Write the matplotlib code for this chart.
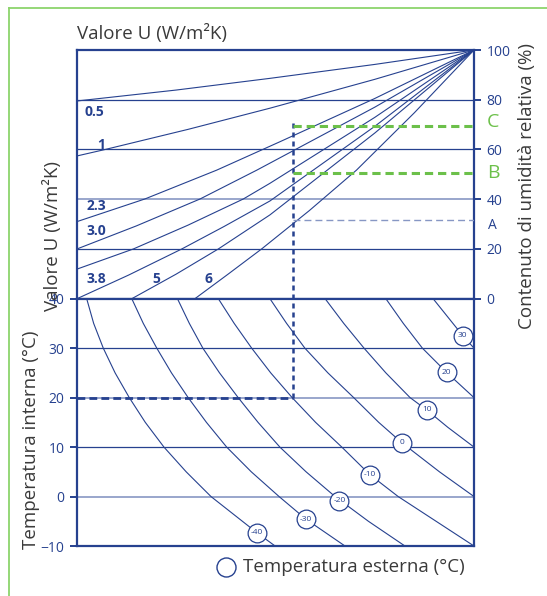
import matplotlib.pyplot as plt
from matplotlib.lines import Line2D

plt.rcParams['font.family'] = ['Open Sans', 'DejaVu Sans']

NAVY = '#26418f'
LIGHT = '#8797c4'
GREEN = '#6cc04a'
GREY = '#3a3a3a'

# upper panel: U-value curves (x position 0-100 vs relative humidity %)
u_labels = ['0.5', '1', '2.3', '3.0', '3.8', '5', '6']
u_x = [
    [0, 25, 48.6, 75, 100],
    [0, 7.1, 28, 48.6, 75, 100],
    [0, 17.1, 35.2, 51.1, 75, 100],
    [0, 15, 31.0, 45.3, 75, 100],
    [0, 14.2, 28, 41.9, 48.6, 75, 100],
    [0, 13, 26.4, 37, 48.6, 75, 100],
    [13.8, 25, 35.6, 48.6, 75, 100],
    [29.7, 38, 46.5, 58.5, 70.4, 85, 100],
]
u_rh = [
    [79.5, 83.9, 88.6, 94.2, 100],
    [57.4, 60.0, 68.1, 76.6, 88.2, 100],
    [31.0, 40.1, 51.7, 63.1, 80.5, 100],
    [20.0, 29.3, 40.1, 51.7, 77.0, 100],
    [11.9, 20.0, 29.6, 40.1, 46.4, 72.9, 100],
    [0, 9.5, 20.0, 29.0, 39.3, 69.3, 100],
    [0, 9.9, 20.0, 33.7, 66.6, 100],
    [0, 9.8, 20.0, 35.4, 51.7, 74.8, 100],
]
u_label_x = [4.5, 6.2, 4.8, 4.8, 4.8, 19.9, 33.2]
u_label_rh = [75.2, 62.0, 37.3, 27.2, 8.1, 8.1, 8.1]

# lower panel: external temperature curves (x position vs internal temperature)
t_ext = [-40, -30, -20, -10, 0, 10, 20, 30]
t_x = [
    [2.44, 4.2, 6.62, 9.6, 13.17, 17.2, 21.9, 27.5, 33.75, 45.3, 49.9],
    [13.8, 16.7, 20.1, 23.8, 28.0, 32.6, 37.7, 43.9, 50.9, 57.7, 67.5],
    [25.3, 28.3, 31.7, 35.9, 40.6, 45.6, 51.1, 57.7, 65.0, 73.4, 82.6],
    [35.6, 39.6, 44.0, 48.8, 54.2, 60.1, 66.7, 73.8, 80.9, 100],
    [48.6, 52.8, 57.4, 63.2, 69.7, 76.0, 81.8, 91.3, 100],
    [62.5, 67.2, 72.3, 77.8, 83.9, 88.1, 93.4, 100],
    [77.8, 82.2, 87.0, 93.1, 100],
    [89.7, 97.2, 100],
]
t_in = [
    [40, 35, 30, 25, 20, 15, 10, 5, 0, -7.3, -10],
    [40, 35, 30, 25, 20, 15, 10, 5, 0, -4.6, -10],
    [40, 35, 30, 25, 20, 15, 10, 5, 0, -5, -10],
    [40, 35, 30, 25, 20, 15, 10, 4.4, 0, -10],
    [40, 35, 30, 25, 20, 15, 10.9, 5, 0],
    [40, 35, 30, 25, 20, 17.5, 14, 10],
    [40, 35, 30, 25.1, 20],
    [40, 32.5, 30],
]
t_label_x = [45.3, 57.7, 66.1, 73.8, 81.8, 88.1, 93.1, 97.2]
t_label_in = [-7.3, -4.6, -0.9, 4.4, 10.9, 17.5, 25.1, 32.5]

rh_ticks = [0, 20, 40, 60, 80, 100]
t_ticks = [-10, 0, 10, 20, 30, 40]

# worked example
x_read = 54.5
t_read = 20
rh_start = 71.6
rh_levels = {'A': 31.6, 'B': 50.4, 'C': 69.4}
rh_text = {'A': 29.4, 'B': 50.5, 'C': 71.1}

W, H = 547, 596
fig = plt.figure(figsize=(W / 100, H / 100), dpi=100)

x0, x1 = 77, 474
y_top, y_mid, y_bot = 50, 298.7, 546
ax_top = fig.add_axes([x0 / W, 1 - y_mid / H, (x1 - x0) / W, (y_mid - y_top) / H])
ax_bot = fig.add_axes([x0 / W, 1 - y_bot / H, (x1 - x0) / W, (y_bot - y_mid) / H])

for ax in (ax_top, ax_bot):
    ax.set_xlim(0, 100)
    ax.set_xticks([])
    for sp in ax.spines.values():
        sp.set_color(NAVY)
        sp.set_linewidth(1.6)
    ax.tick_params(colors=NAVY, labelcolor=NAVY, labelsize=10, width=1.4, length=5, pad=4)

ax_top.set_ylim(0, 100)
ax_top.yaxis.tick_right()
ax_top.set_yticks(rh_ticks)
ax_bot.set_ylim(-10, 40)
ax_bot.set_yticks(t_ticks)

# grid lines
for v in [20, 40, 60, 80]:
    ax_top.axhline(v, color=LIGHT if v == 40 else NAVY, lw=1.2 if v == 40 else 0.9, zorder=1)
for v in [0, 10, 20, 30]:
    ax_bot.axhline(v, color=LIGHT if v in (0, 20) else NAVY, lw=1.2 if v in (0, 20) else 0.9, zorder=1)

# U-value curves
for xs, ys in zip(u_x, u_rh):
    ax_top.plot(xs, ys, color=NAVY, lw=0.8, zorder=2)
for lab, lx, ly in zip(u_labels, u_label_x, u_label_rh):
    ax_top.text(lx, ly, lab, color=NAVY, fontsize=10, fontweight='bold', ha='center', va='center')

# external temperature curves
for xs, ys in zip(t_x, t_in):
    ax_bot.plot(xs, ys, color=NAVY, lw=0.8, zorder=2)
ax_bot.plot(t_label_x, t_label_in, 'o', ms=13.5, mfc='white', mec=NAVY, mew=0.9, zorder=4)
for te, lx, ly in zip(t_ext, t_label_x, t_label_in):
    ax_bot.text(lx, ly, str(te), color=NAVY, fontsize=6, ha='center', va='center', zorder=5)

# worked example: dashed guides
ax_bot.plot([0, x_read], [t_read, t_read], color=NAVY, lw=2, dashes=(2.8, 1.5), zorder=3)
ax_bot.plot([x_read, x_read], [t_read, 40], color=NAVY, lw=1.8, dashes=(2, 1.6), zorder=3, clip_on=False)
ax_top.plot([x_read, x_read], [0, rh_start], color=NAVY, lw=1.8, dashes=(2, 1.6), zorder=3, clip_on=False)
for key in ['B', 'C']:
    ax_top.plot([x_read, 100], [rh_levels[key]] * 2, color=GREEN, lw=2.2, dashes=(2.7, 1.6), zorder=3)
    ax_top.text(104.8, rh_text[key], key, color=GREEN, fontsize=14, ha='center', va='center', clip_on=False)
ax_top.plot([x_read, 100], [rh_levels['A']] * 2, color=LIGHT, lw=1.0, dashes=(5, 2.9), zorder=3)
ax_top.text(104.7, rh_text['A'], 'A', color=NAVY, fontsize=10, ha='center', va='center', clip_on=False)

# texts
fig.text(x0 / W, 1 - 33 / H, 'Valore U (W/m²K)', color=GREY, fontsize=13.5, ha='left', va='center')
fig.text(527 / W, 1 - 186 / H, 'Contenuto di umidità relativa (%)', color=GREY, fontsize=13.5,
         rotation=90, ha='center', va='center')
fig.text(53 / W, 1 - 236 / H, 'Valore U (W/m²K)', color=GREY, fontsize=13.5,
         rotation=90, ha='center', va='center')
fig.text(31 / W, 1 - 440 / H, 'Temperatura interna (°C)', color=GREY, fontsize=13.5,
         rotation=90, ha='center', va='center')

# legend
ax_bot.plot([(226 - x0) / (x1 - x0)], [-(567 - y_bot) / (y_bot - y_mid)], 'o', ms=13.7,
            mfc='white', mec=NAVY, mew=1.0, transform=ax_bot.transAxes, clip_on=False)
fig.text(243 / W, 1 - 567 / H, 'Temperatura esterna (°C)', color=GREY, fontsize=13.5,
         ha='left', va='center')

# green frame
fig.add_artist(Line2D([9 / W, 9 / W], [0, 1 - 8 / H], color='#8cd46c', lw=1.3, transform=fig.transFigure))
fig.add_artist(Line2D([9 / W, 1], [1 - 8 / H, 1 - 8 / H], color='#8cd46c', lw=1.3, transform=fig.transFigure))

fig.savefig('out.png', dpi=100)
